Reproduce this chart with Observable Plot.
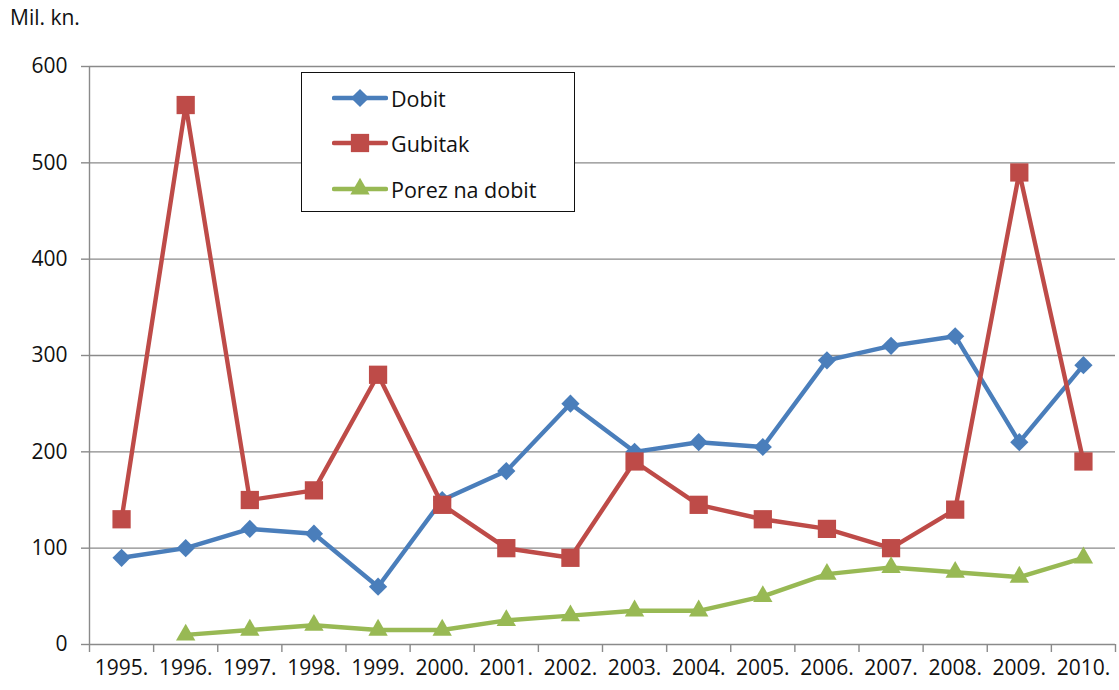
<!DOCTYPE html>
<html>
<head>
<meta charset="utf-8">
<script src="https://cdn.jsdelivr.net/npm/d3@7"></script>
<script src="https://cdn.jsdelivr.net/npm/@observablehq/plot@0.6"></script>
<style>
  html, body { margin: 0; padding: 0; background: #fff; }
  #wrap { position: relative; width: 1119px; height: 690px; font-family: "Open Sans", sans-serif; }
  #unit { position: absolute; left: 10px; top: 3px; font-size: 21px; color: #111; }
  #legend { position: absolute; left: 301px; top: 72px; width: 272px; height: 138px; border: 1.5px solid #111; background: #fff; }
  .row { position: absolute; left: 30px; height: 30px; display: flex; align-items: center; font-size: 21.5px; color: #111; }
  .row svg { margin-right: 3px; }
</style>
</head>
<body>
<div id="wrap">
  <div id="chart"></div>
  <div id="unit">Mil. kn.</div>
  <div id="legend"></div>
</div>
<script>
const years = ["1995.", "1996.", "1997.", "1998.", "1999.", "2000.", "2001.", "2002.", "2003.", "2004.", "2005.", "2006.", "2007.", "2008.", "2009.", "2010."];
const dobit   = [90, 100, 120, 115, 60, 150, 180, 250, 200, 210, 205, 295, 310, 320, 210, 290];
const gubitak = [130, 560, 150, 160, 280, 145, 100, 90, 190, 145, 130, 120, 100, 140, 490, 190];
const porez   = [null, 10, 15, 20, 15, 15, 25, 30, 35, 35, 50, 73, 80, 75, 70, 90];
const yTicks = [0, 100, 200, 300, 400, 500, 600];

const seriesNames = ["Dobit", "Gubitak", "Porez na dobit"];
const seriesValues = [dobit, gubitak, porez];
const colors = ["#4A7EBB", "#BE4B48", "#98B954"];
const symbols = ["diamond2", "square", "triangle"];
const radii = [8.2, 10.3, 7.2];

const rows = [];
seriesNames.forEach((name, k) => {
  seriesValues[k].forEach((v, i) => rows.push({x: i + 0.5, y: v, s: name}));
});
const gridColor = "#8a8a8a";

const marks = [
  Plot.ruleY(yTicks, {stroke: gridColor, strokeWidth: 1.4}),
  Plot.ruleX([0], {stroke: gridColor, strokeWidth: 1.4}),
  Plot.axisY(yTicks, {label: null, tickSize: 8, tickPadding: 14, stroke: gridColor, strokeWidth: 1.4, fill: "#111", tickFormat: d => String(d)}),
  Plot.axisX(d3.range(years.length + 1), {label: null, tickSize: 8, stroke: gridColor, strokeWidth: 1.4, tickFormat: () => ""}),
  Plot.axisX(years.map((d, i) => i + 0.5), {label: null, tickSize: 0, tickPadding: 16, fill: "#111", tickFormat: d => years[Math.floor(d)]})
];
seriesNames.forEach((name, k) => {
  const data = rows.filter(r => r.s === name);
  marks.push(Plot.line(data, {x: "x", y: "y", stroke: colors[k], strokeWidth: 4.4}));
  marks.push(Plot.dot(data, {x: "x", y: "y", fill: colors[k], symbol: symbols[k], r: radii[k]}));
});

const chart = Plot.plot({
  width: 1119,
  height: 690,
  marginLeft: 89,
  marginRight: 4,
  marginTop: 66,
  marginBottom: 46,
  style: {fontFamily: "Open Sans, sans-serif", fontSize: "21px", color: "#111", background: "#fff"},
  x: {type: "linear", domain: [0, years.length], axis: null},
  y: {domain: [0, 600], axis: null},
  marks
});
document.getElementById("chart").appendChild(chart);

// legend
const legend = document.getElementById("legend");
const rowTops = [10, 55, 101];
seriesNames.forEach((name, k) => {
  const div = document.createElement("div");
  div.className = "row";
  div.style.top = rowTops[k] + "px";
  const sym = d3.symbol().type([d3.symbolDiamond2, d3.symbolSquare, d3.symbolTriangle][k]).size(Math.PI * radii[k] * radii[k])();
  div.innerHTML = `<svg width="56" height="30"><line x1="2" x2="54" y1="15" y2="15" stroke="${colors[k]}" stroke-width="4.4" stroke-linecap="round"/><path d="${sym}" transform="translate(28,15)" fill="${colors[k]}"/></svg><span>${name}</span>`;
  legend.appendChild(div);
});
</script>
</body>
</html>
